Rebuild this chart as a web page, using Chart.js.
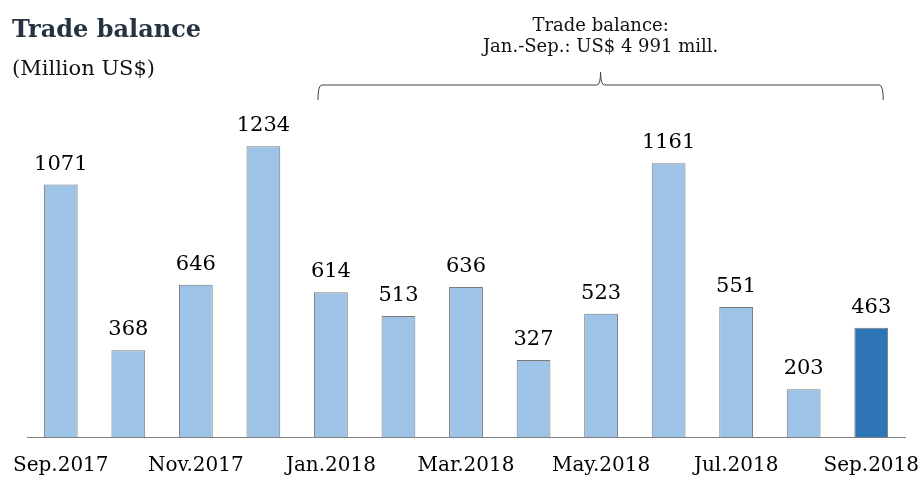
<!DOCTYPE html>
<html lang="en">
<head>
  <meta charset="UTF-8">
  <title>Trade balance</title>
  <script src="https://cdn.jsdelivr.net/npm/chart.js"></script>
  <style>
    html, body { margin: 0; padding: 0; background: #fff; }
    .wrap { position: relative; width: 921px; height: 482px; overflow: hidden; font-family: "DejaVu Serif", serif; }
    .title { position: absolute; left: 12px; top: 14px; font-size: 24px; font-weight: bold; color: #253240; }
    .sub { position: absolute; left: 12px; top: 56px; font-size: 21px; color: #111; }
    #chart { position: absolute; left: -30px; top: 0; }
  </style>
</head>
<body>
  <div class="wrap">
    <canvas id="chart" width="981" height="495"></canvas>
    <div class="title">Trade balance</div>
    <div class="sub">(Million US$)</div>
  </div>

  <script>
    // months, Sep.2017 .. Sep.2018
    const months = ['Sep.2017', 'Oct.2017', 'Nov.2017', 'Dec.2017', 'Jan.2018', 'Feb.2018', 'Mar.2018',
                    'Apr.2018', 'May.2018', 'Jun.2018', 'Jul.2018', 'Aug.2018', 'Sep.2018'];
    const balance = [1071, 368, 646, 1234, 614, 513, 636, 327, 523, 1161, 551, 203, 463];
    const noteLines = ['Trade balance:', 'Jan.-Sep.: US$ 4 991 mill.'];
    const braceFrom = 4, braceTo = 12;

    const barColors = balance.map((_, i) => i === balance.length - 1 ? '#2E75B6' : '#9DC3E6');

    // value labels above bars + brace annotation
    const extras = {
      id: 'extras',
      afterDatasetsDraw(chart) {
        const ctx = chart.ctx;
        const meta = chart.getDatasetMeta(0);
        ctx.save();
        ctx.font = '21px "DejaVu Serif"';
        ctx.fillStyle = '#000';
        ctx.textAlign = 'center';
        ctx.textBaseline = 'alphabetic';
        meta.data.forEach((bar, i) => {
          ctx.fillText(String(balance[i]), bar.x, bar.y - 15);
        });

        const x = chart.scales.x;
        const left = x.getPixelForValue(braceFrom) - 13;
        const right = x.getPixelForValue(braceTo) + 12;
        const mid = (left + right) / 2;
        const yLine = chart.chartArea.top - 22;
        ctx.strokeStyle = '#404040';
        ctx.lineWidth = 1;
        ctx.beginPath();
        ctx.moveTo(left, yLine + 15);
        ctx.quadraticCurveTo(left, yLine, left + 4, yLine);
        ctx.lineTo(mid - 4, yLine);
        ctx.quadraticCurveTo(mid, yLine, mid, yLine - 13);
        ctx.quadraticCurveTo(mid, yLine, mid + 4, yLine);
        ctx.lineTo(right - 4, yLine);
        ctx.quadraticCurveTo(right, yLine, right, yLine + 15);
        ctx.stroke();

        ctx.font = '18px "DejaVu Serif"';
        ctx.fillStyle = '#111';
        ctx.fillText(noteLines[0], mid, 31);
        ctx.fillText(noteLines[1], mid, 52);
        ctx.restore();
      }
    };

    new Chart(document.getElementById('chart').getContext('2d'), {
      type: 'bar',
      data: {
        labels: months,
        datasets: [{
          data: balance,
          backgroundColor: barColors,
          borderColor: '#7a7a7a',
          borderWidth: 1,
          categoryPercentage: 1,
          barPercentage: 0.5
        }]
      },
      options: {
        responsive: false,
        animation: false,
        layout: { padding: { left: 57, right: 46, top: 107, bottom: 0 } },
        scales: {
          x: {
            grid: { display: false, drawTicks: false },
            border: { display: true, color: '#808080', width: 1 },
            ticks: {
              autoSkip: false,
              maxRotation: 0,
              padding: 19,
              color: '#000',
              font: { family: 'DejaVu Serif', size: 20, lineHeight: 1 },
              callback: (v, i) => i % 2 === 0 ? months[i] : ''
            }
          },
          y: { display: false, min: 0, max: 1400 }
        },
        plugins: { legend: { display: false }, tooltip: { enabled: false } }
      },
      plugins: [extras]
    });
  </script>
</body>
</html>
